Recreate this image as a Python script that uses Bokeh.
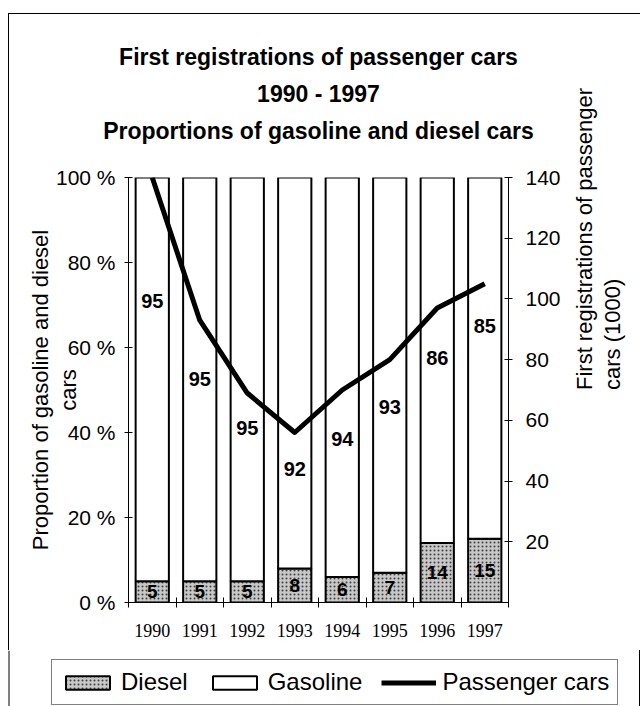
import math
from bokeh.plotting import figure
from bokeh.layouts import column
from bokeh.models import (Range1d, LinearAxis, FixedTicker, PrintfTickFormatter,
                          Legend, LegendItem, ColumnDataSource, BoxAnnotation)
from bokeh.core.properties import value
from bokeh.embed import file_html
from bokeh.resources import INLINE

# ---------------- data ----------------
years = ["1990", "1991", "1992", "1993", "1994", "1995", "1996", "1997"]
diesel = [5, 5, 5, 8, 6, 7, 14, 15]                 # % of first registrations
gasoline = [95, 95, 95, 92, 94, 93, 86, 85]         # % of first registrations
passenger_cars = [140, 93, 69, 56, 70, 80, 97, 105]  # first registrations (1000)
gas_label_pos = [71, 52.5, 41, 31.5, 38.5, 46, 57.5, 65]  # where gasoline labels sit (%)
left_ticks = [0, 20, 40, 60, 80, 100]
right_ticks = [20, 40, 60, 80, 100, 120, 140]
series_names = ["Diesel", "Gasoline", "Passenger cars"]

FONT = "Liberation Sans"
DIESEL_STYLE = dict(fill_color="#c8c8c8", hatch_pattern="dot", hatch_color="#404040",
                    hatch_scale=4, hatch_weight=1, line_color="black", line_width=2)
GAS_STYLE = dict(fill_color="white", line_color="black", line_width=2)
LINE_STYLE = dict(line_color="black", line_width=5, line_join="round")

# plot frame in page pixels: x 128..508, y 177..602
FL, FR, FT, FB = 128, 508, 177, 602
W, H_MAIN, H_LEG = 640, 650, 56
TITLE_CENTER = 3.96     # title block centre, in category units

idx = list(range(len(years)))
src = ColumnDataSource(dict(
    x=idx,
    diesel=diesel,
    total=[d + g for d, g in zip(diesel, gasoline)],
    diesel_mid=[d / 2 for d in diesel],
    diesel_txt=[str(d) for d in diesel],
    gas_txt=[str(g) for g in gasoline],
    gas_pos=gas_label_pos,
    cars=passenger_cars,
))

p = figure(frame_width=FR - FL, frame_height=FB - FT,
           output_backend="svg", toolbar_location=None,
           x_range=Range1d(-0.5, len(years) - 0.5), y_range=Range1d(0, 100),
           min_border_left=FL, min_border_right=W - FR,
           min_border_top=FT, min_border_bottom=H_MAIN - FB)
p.extra_y_ranges = {"cars": Range1d(0, 140)}
p.outline_line_color = None
p.grid.visible = False
p.background_fill_color = "white"
p.border_fill_color = None
# outer frame of the figure box (left and top edges)
p.styles = {"background-color": "white",
            "background-image": "linear-gradient(#000,#000), linear-gradient(#000,#000)",
            "background-repeat": "no-repeat",
            "background-size": "1px 100%, 100% 1px",
            "background-position": "8px 13px, 8px 13px"}

# ---------------- bars ----------------
p.vbar(x="x", width=0.7, bottom=0, top="diesel", source=src, **DIESEL_STYLE)
p.vbar(x="x", width=0.7, bottom="diesel", top="total", source=src, **GAS_STYLE)

# ---------------- line ----------------
p.line(x="x", y="cars", source=src, y_range_name="cars", **LINE_STYLE)

# ---------------- value labels ----------------
p.text(x="x", y="diesel_mid", text="diesel_txt", source=src,
       text_align="center", text_baseline="middle",
       text_font=value(FONT), text_font_size="19px", text_font_style="bold",
       text_color="black")
p.text(x="x", y="gas_pos", text="gas_txt", source=src,
       text_align="center", text_baseline="middle",
       text_font=value(FONT), text_font_size="20px", text_font_style="bold",
       text_color="black")

# ---------------- axes ----------------
xa = p.xaxis[0]
xa.ticker = FixedTicker(ticks=idx, minor_ticks=[i - 0.5 for i in range(len(years) + 1)])
xa.major_label_overrides = {i: y for i, y in zip(idx, years)}
xa.major_tick_in = 0
xa.major_tick_out = 0
xa.minor_tick_in = 5
xa.minor_tick_out = 5
xa.minor_tick_line_color = "black"
xa.axis_line_color = "black"
xa.major_label_text_font = "Liberation Serif"
xa.major_label_text_font_size = "18px"
xa.major_label_text_color = "black"
xa.major_label_standoff = 16

ya = p.yaxis[0]
ya.ticker = FixedTicker(ticks=left_ticks)
ya.formatter = PrintfTickFormatter(format="%d %%")
ya.major_tick_in = 4
ya.major_tick_out = 4
ya.minor_tick_line_color = None
ya.axis_line_color = "black"
ya.major_tick_line_color = "black"
ya.major_label_text_font = FONT
ya.major_label_text_font_size = "21px"
ya.major_label_text_color = "black"
ya.major_label_standoff = 9
ya.axis_label = "Proportion of gasoline and diesel\ncars"
ya.axis_label_text_font = FONT
ya.axis_label_text_font_size = "22px"
ya.axis_label_text_font_style = "normal"
ya.axis_label_text_color = "black"
ya.axis_label_text_line_height = 1.1
ya.axis_label_standoff = -28

ra = LinearAxis(y_range_name="cars", ticker=FixedTicker(ticks=right_ticks))
ra.major_tick_in = 4
ra.major_tick_out = 4
ra.minor_tick_line_color = None
ra.axis_line_color = "black"
ra.major_tick_line_color = "black"
ra.major_label_text_font = FONT
ra.major_label_text_font_size = "21px"
ra.major_label_text_color = "black"
ra.major_label_standoff = 13
ra.axis_label = "First registrations of  passenger\ncars (1000)"
ra.axis_label_text_font = FONT
ra.axis_label_text_font_size = "22px"
ra.axis_label_text_font_style = "normal"
ra.axis_label_text_color = "black"
ra.axis_label_text_line_height = 1.1
ra.axis_label_standoff = 35
try:
    ra.axis_label_orientation = math.pi / 2
    ra.axis_label_text_align = "center"
except Exception:
    pass
p.add_layout(ra, "right")

# ---------------- titles (as the label of an empty top axis) ----------------
ta = LinearAxis(ticker=FixedTicker(ticks=[]))
ta.axis_line_color = None
ta.major_tick_line_color = None
ta.minor_tick_line_color = None
ta.major_tick_in = 0
ta.major_tick_out = 0
ta.major_label_standoff = 0
ta.axis_label = ("First registrations of passenger cars\n1990 - 1997\n"
                 "Proportions of gasoline and diesel cars")
ta.axis_label_text_font = FONT
ta.axis_label_text_font_size = "23px"
ta.axis_label_text_font_style = "bold"
ta.axis_label_text_color = "black"
ta.axis_label_text_line_height = 1.42
ta.axis_label_standoff = 34
try:
    half = len(years) - 0.5 - TITLE_CENTER
    ta.bounds = (TITLE_CENTER - half, TITLE_CENTER + half)
except Exception:
    pass
p.add_layout(ta, "above")

# ---------------- legend strip (separate small figure below) ----------------
q = figure(width=W, height=H_LEG, output_backend="svg", toolbar_location=None,
           x_range=Range1d(-200, -199), y_range=Range1d(0, 1),
           x_axis_location=None, y_axis_location=None, min_border=0)
q.outline_line_color = None
q.grid.visible = False
q.background_fill_color = "white"
q.border_fill_color = "white"
for fig in (p, q):
    try:
        fig.frame_align = False
    except Exception:
        pass
# continuation of the outer frame's left edge
q.add_layout(BoxAnnotation(left=8, right=9, left_units="screen", right_units="screen",
                           fill_color="black", fill_alpha=1, line_color=None))
# legend proxies: same data, drawn outside the strip's visible range
lr_d = q.vbar(x="x", width=0.7, bottom=0, top="diesel", source=src, **DIESEL_STYLE)
lr_g = q.vbar(x="x", width=0.7, bottom="diesel", top="total", source=src, **GAS_STYLE)
lr_l = q.line(x="x", y="cars", source=src, **LINE_STYLE)

legend = Legend(items=[LegendItem(label=n, renderers=[r])
                       for n, r in zip(series_names, [lr_d, lr_g, lr_l])],
                orientation="horizontal", location=(51, 1),
                margin=0, padding=8, spacing=19, label_standoff=6,
                glyph_width=55, glyph_height=17,
                label_text_font=FONT, label_text_font_size="24px",
                label_text_color="black",
                border_line_color="black", border_line_width=1,
                background_fill_color="white", background_fill_alpha=1)
q.add_layout(legend)

layout = column(p, q, spacing=0)
open("out.html", "w").write(file_html(layout, INLINE))
